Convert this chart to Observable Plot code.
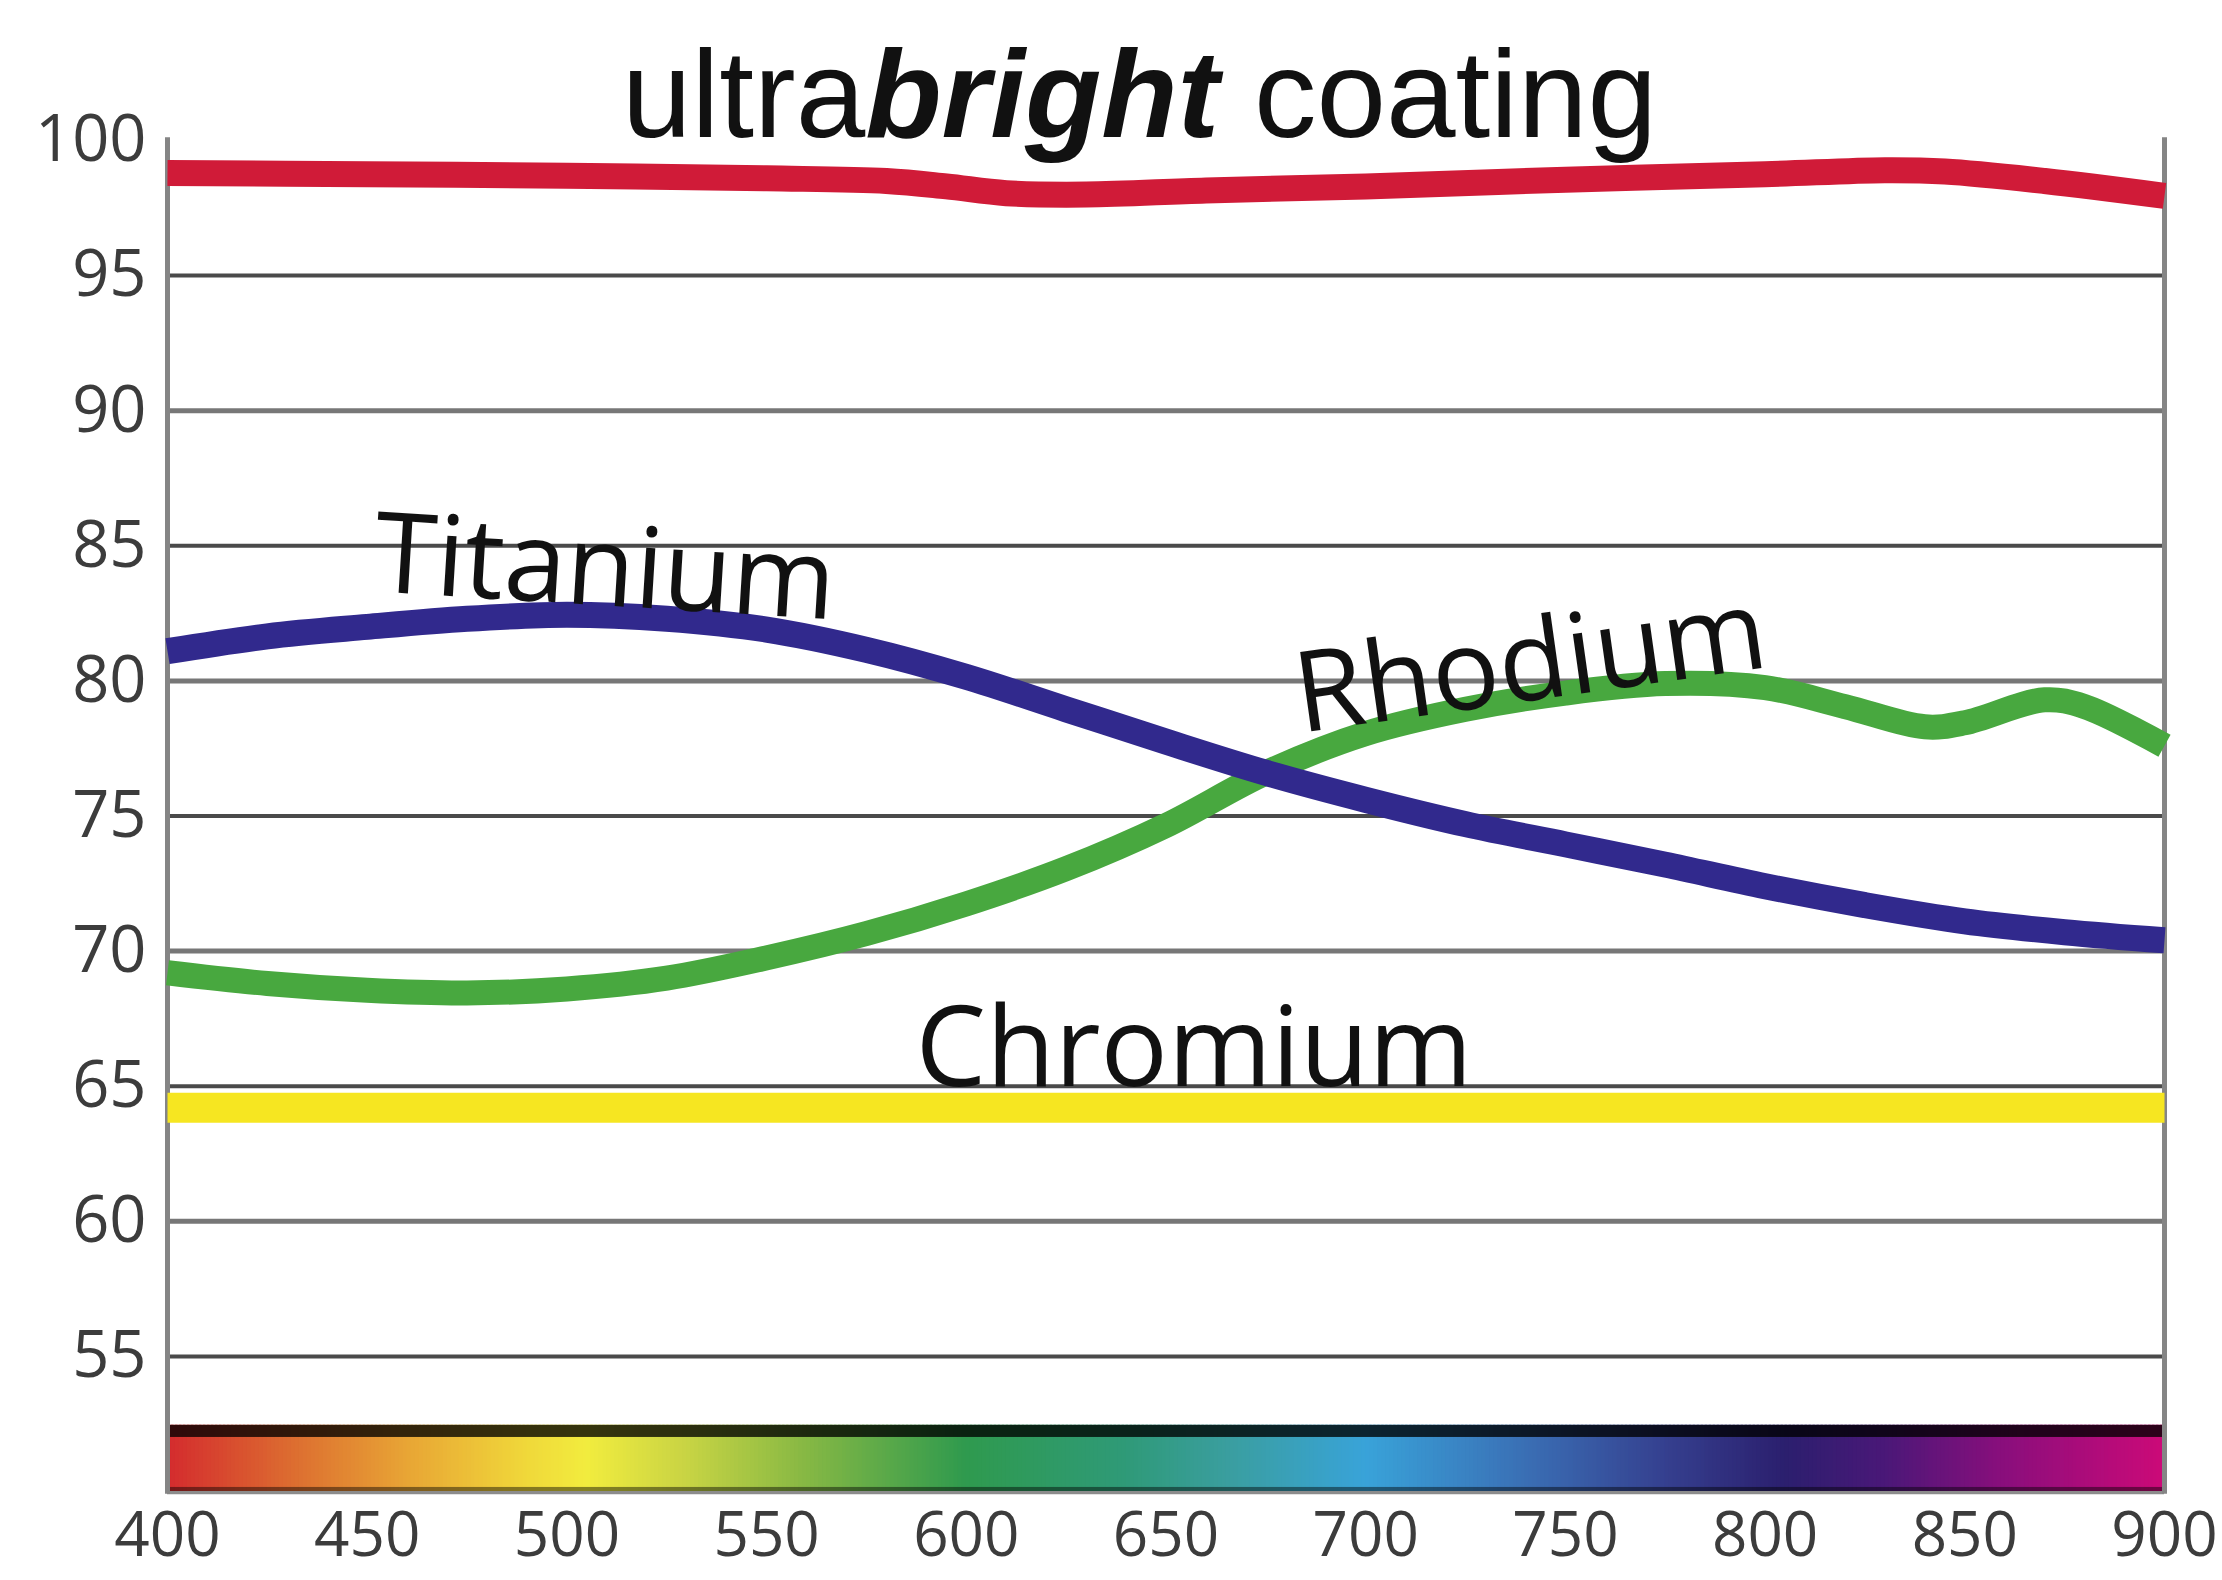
<!DOCTYPE html>
<html>
<head>
<meta charset="utf-8">
<script src="https://cdn.jsdelivr.net/npm/d3@7"></script>
<script src="https://cdn.jsdelivr.net/npm/@observablehq/plot@0.6"></script>
<style>
  body { margin: 0; background: #fff; }
  #wrap { position: relative; width: 2222px; height: 1580px; overflow: hidden; }
  #title {
    position: absolute; left: 622px; top: 31px;
    font-family: "Liberation Sans", Arial, sans-serif;
    font-size: 125px; line-height: 1; color: #111; white-space: nowrap;
  }
  #title b { font-style: italic; font-weight: 900; }
  #chart { position: absolute; left: 0; top: 0; }
</style>
</head>
<body>
<div id="wrap">
  <div id="chart"></div>
  <div id="title">ultra<b>bright</b> coating</div>
</div>
<script>
// ---- data ----
const xTicks = [400, 450, 500, 550, 600, 650, 700, 750, 800, 850, 900];
const yTicks = [55, 60, 65, 70, 75, 80, 85, 90, 95, 100];
const gridDark = [95, 85, 75, 65, 55];
const gridLight = [90, 80, 70, 60];

const ultraNm  = [400, 450, 500, 550, 580, 595, 610, 630, 660, 700, 750, 800, 830, 845, 870, 900];
const ultraPct = [98.8, 98.75, 98.7, 98.6, 98.5, 98.3, 98.05, 98.0, 98.15, 98.3, 98.55, 98.75, 98.9, 98.85, 98.5, 97.95];

const titaniumNm  = [400, 425, 450, 475, 500, 525, 550, 575, 600, 625, 650, 675, 700, 725, 750, 775, 800, 825, 850, 875, 900];
const titaniumPct = [81.1, 81.65, 82.0, 82.3, 82.45, 82.3, 81.9, 81.15, 80.15, 78.95, 77.75, 76.6, 75.6, 74.7, 73.95, 73.2, 72.4, 71.7, 71.1, 70.7, 70.4];

const rhodiumNm  = [400, 425, 450, 475, 500, 525, 550, 575, 600, 625, 650, 675, 700, 725, 750, 775, 800, 820, 840, 850, 870, 880, 900];
const rhodiumPct = [69.2, 68.8, 68.55, 68.45, 68.6, 69.0, 69.75, 70.65, 71.75, 73.05, 74.65, 76.6, 78.05, 78.95, 79.55, 79.9, 79.75, 79.05, 78.3, 78.45, 79.3, 79.05, 77.6];

const chromiumNm  = [400, 650, 900];
const chromiumPct = [64.2, 64.2, 64.2];

const labelNames = ["Titanium", "Rhodium", "Chromium"];
const labelNm    = [509, 742.5, 657];
const labelPct   = [82.8, 79.3, 65.0];

const spectrumNm = [400, 430, 460, 490, 505, 530, 560, 600, 640, 665, 700, 740, 775, 805, 830, 860, 900];
const spectrumColors = ["#d42b2e", "#dc6a30", "#e8a535", "#f0d83a", "#f2ec3e", "#c8d444", "#86b844", "#2f9a4e",
                        "#2f9a78", "#3a9e9e", "#39a3d9", "#3a6fb5", "#35408f", "#2b1f6e", "#4a1878", "#8a0e7c", "#cc0a78"];
const barPct = [50, 52.45];

// ---- build tables ----
const series = (nm, pct) => nm.map((x, i) => ({x, y: pct[i]}));
const ultra = series(ultraNm, ultraPct);
const titanium = series(titaniumNm, titaniumPct);
const rhodium = series(rhodiumNm, rhodiumPct);
const chromium = series(chromiumNm, chromiumPct);
const labels = labelNames.map((name, i) => ({name, x: labelNm[i], y: labelPct[i]}));
const spectrumCells = d3.range(xTicks[0], xTicks[xTicks.length - 1], 1);

const labelFont = {fontFamily: "'Open Sans', sans-serif", fontSize: 112, fill: "#111", lineAnchor: "bottom", textAnchor: "middle"};

const chart = Plot.plot({
  width: 2222,
  height: 1580,
  marginLeft: 167,
  marginRight: 58,
  marginTop: 140,
  marginBottom: 89,
  x: {domain: [400, 900]},
  y: {domain: [50, 100]},
  color: {type: "linear", domain: spectrumNm, range: spectrumColors},
  style: {fontFamily: "'Open Sans', sans-serif", fontSize: "62px", color: "#3c3c3c", background: "transparent"},
  marks: [
    Plot.ruleY(gridLight, {stroke: "#777777", strokeWidth: 5}),
    Plot.ruleY(gridDark, {stroke: "#4a4a4a", strokeWidth: 4}),
    // spectrum bar
    Plot.rect(spectrumCells, {x1: d => d, x2: d => Math.min(d + 1.6, 900), y1: barPct[0], y2: barPct[1], fill: d => d + 0.5}),
    Plot.rect([barPct], {x1: 400, x2: 900, y1: d => d[1] - 0.45, y2: d => d[1], fill: "#000", fillOpacity: 0.78}),
    Plot.rect([barPct], {x1: 400, x2: 900, y1: d => d[0] - 0.12, y2: d => d[0] + 0.15, fill: "#000", fillOpacity: 0.45}),
    // frame verticals
    Plot.ruleX([xTicks[0], xTicks[xTicks.length - 1]], {y1: 49.9, y2: 100.1, stroke: "#858585", strokeWidth: 5}),
    // series
    Plot.line(chromium, {x: "x", y: "y", stroke: "#f6e621", strokeWidth: 30, curve: "catmull-rom", strokeLinecap: "butt"}),
    Plot.line(rhodium, {x: "x", y: "y", stroke: "#48a83f", strokeWidth: 25, curve: "catmull-rom", strokeLinecap: "butt"}),
    Plot.line(titanium, {x: "x", y: "y", stroke: "#31298d", strokeWidth: 26, curve: "catmull-rom", strokeLinecap: "butt"}),
    Plot.line(ultra, {x: "x", y: "y", stroke: "#d01b38", strokeWidth: 26, curve: "catmull-rom", strokeLinecap: "butt"}),
    // labels
    Plot.text([labels[0]], {x: "x", y: "y", text: "name", rotate: 3.5, ...labelFont}),
    Plot.text([labels[1]], {x: "x", y: "y", text: "name", rotate: -8, ...labelFont}),
    Plot.text([labels[2]], {x: "x", y: "y", text: "name", rotate: 0, ...labelFont}),
    // axes
    Plot.axisY({ticks: yTicks, tickSize: 0, tickPadding: 21, label: null, fontSize: 65}),
    Plot.axisX({ticks: xTicks, tickSize: 0, tickPadding: 20, label: null, fontSize: 62})
  ]
});
document.getElementById("chart").appendChild(chart);
</script>
</body>
</html>
